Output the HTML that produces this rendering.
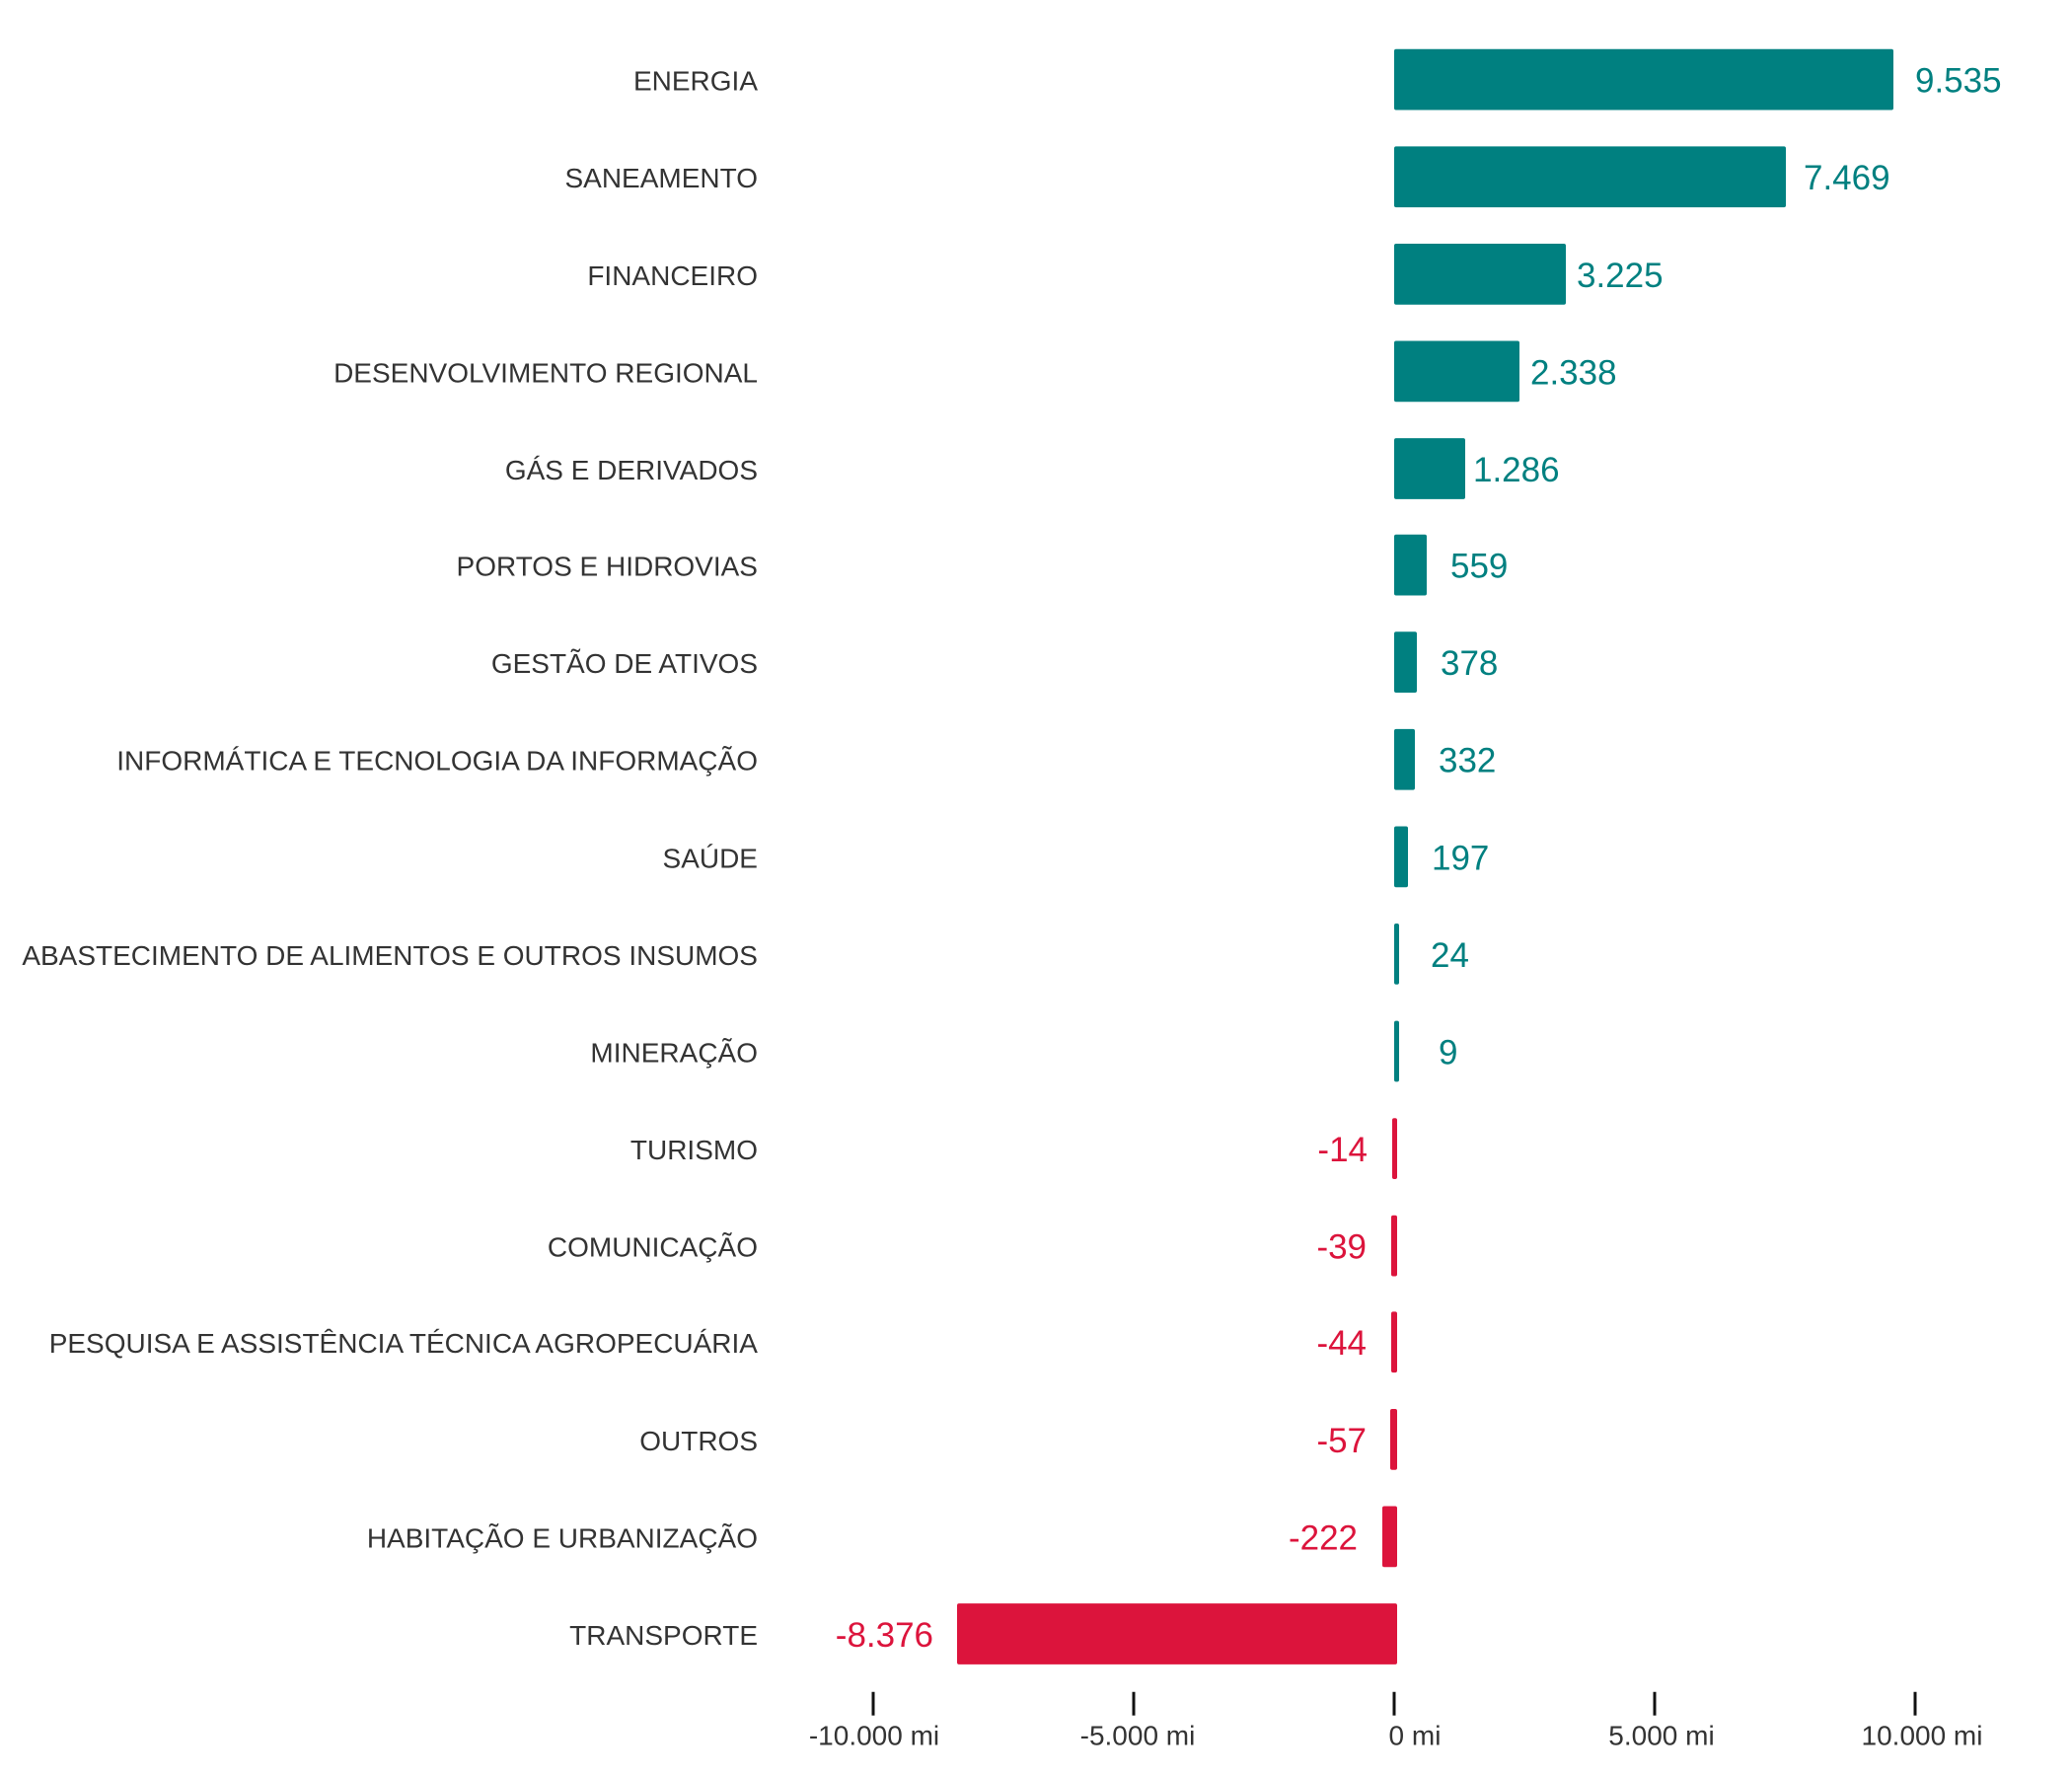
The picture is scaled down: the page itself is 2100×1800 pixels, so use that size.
<!DOCTYPE html>
<html><head><meta charset="utf-8"><style>
html,body{margin:0;padding:0;background:#fff;}
svg{display:block;}
.l{font-family:"Liberation Sans",sans-serif;font-size:28px;fill:#333;}
.v{font-family:"Liberation Sans",sans-serif;font-size:35px;}
.t{font-family:"Liberation Sans",sans-serif;font-size:28px;fill:#333;}
</style></head><body>
<svg width="2100" height="1800" viewBox="0 0 2100 1800" xmlns="http://www.w3.org/2000/svg">
<g transform="matrix(1,0,0,0.9958,0,-1)">
<g class="l" text-anchor="end" transform="translate(-3,0)">
<text x="771" y="93">ENERGIA</text>
<text x="771" y="192">SANEAMENTO</text>
<text x="771" y="291">FINANCEIRO</text>
<text x="771" y="390">DESENVOLVIMENTO REGIONAL</text>
<text x="771" y="489">GÁS E DERIVADOS</text>
<text x="771" y="587">PORTOS E HIDROVIAS</text>
<text x="771" y="686">GESTÃO DE ATIVOS</text>
<text x="771" y="785">INFORMÁTICA E TECNOLOGIA DA INFORMAÇÃO</text>
<text x="771" y="884">SAÚDE</text>
<text x="771" y="983">ABASTECIMENTO DE ALIMENTOS E OUTROS INSUMOS</text>
<text x="771" y="1082">MINERAÇÃO</text>
<text x="771" y="1181">TURISMO</text>
<text x="771" y="1280">COMUNICAÇÃO</text>
<text x="771" y="1378">PESQUISA E ASSISTÊNCIA TÉCNICA AGROPECUÁRIA</text>
<text x="771" y="1477">OUTROS</text>
<text x="771" y="1576">HABITAÇÃO E URBANIZAÇÃO</text>
<text x="771" y="1675">TRANSPORTE</text>
</g>
<g transform="translate(-7,0)">
<g fill="#008080">
<rect x="1420" y="51" width="506" height="62" rx="2"/>
<rect x="1420" y="150" width="397" height="62" rx="2"/>
<rect x="1420" y="249" width="174" height="62" rx="2"/>
<rect x="1420" y="348" width="127" height="62" rx="2"/>
<rect x="1420" y="447" width="72" height="62" rx="2"/>
<rect x="1420" y="545" width="33" height="62" rx="2"/>
<rect x="1420" y="644" width="23" height="62" rx="2"/>
<rect x="1420" y="743" width="21" height="62" rx="2"/>
<rect x="1420" y="842" width="14" height="62" rx="2"/>
<rect x="1420" y="941" width="5" height="62" rx="2"/>
<rect x="1420" y="1040" width="5" height="62" rx="2"/>
</g>
<g fill="#DC143C">
<rect x="1418" y="1139" width="5" height="62" rx="2"/>
<rect x="1417" y="1238" width="6" height="62" rx="2"/>
<rect x="1417" y="1336" width="6" height="62" rx="2"/>
<rect x="1416" y="1435" width="7" height="62" rx="2"/>
<rect x="1408" y="1534" width="15" height="62" rx="2"/>
<rect x="977" y="1633" width="446" height="62" rx="2"/>
</g>
<g class="v" fill="#008080">
<text x="1948" y="95">9.535</text>
<text x="1835" y="194">7.469</text>
<text x="1605" y="293">3.225</text>
<text x="1558" y="392">2.338</text>
<text x="1500" y="491">1.286</text>
<text x="1477" y="589">559</text>
<text x="1467" y="688">378</text>
<text x="1465" y="787">332</text>
<text x="1458" y="886">197</text>
<text x="1457" y="985">24</text>
<text x="1465" y="1084">9</text>
</g>
<g class="v" fill="#DC143C" text-anchor="end">
<text x="1393" y="1183">-14</text>
<text x="1392" y="1282">-39</text>
<text x="1392" y="1380">-44</text>
<text x="1392" y="1479">-57</text>
<text x="1383" y="1578">-222</text>
<text x="953" y="1677">-8.376</text>
</g>
<g stroke="#111" stroke-width="3">
<line x1="892" y1="1723" x2="892" y2="1747"/>
<line x1="1156" y1="1723" x2="1156" y2="1747"/>
<line x1="1420" y1="1723" x2="1420" y2="1747"/>
<line x1="1684" y1="1723" x2="1684" y2="1747"/>
<line x1="1948" y1="1723" x2="1948" y2="1747"/>
</g>
<g class="t" text-anchor="middle">
<text x="893" y="1777">-10.000 mi</text>
<text x="1160" y="1777">-5.000 mi</text>
<text x="1441" y="1777">0 mi</text>
<text x="1691" y="1777">5.000 mi</text>
<text x="1955" y="1777">10.000 mi</text>
</g>
</g>
</g>
</svg>
</body></html>
